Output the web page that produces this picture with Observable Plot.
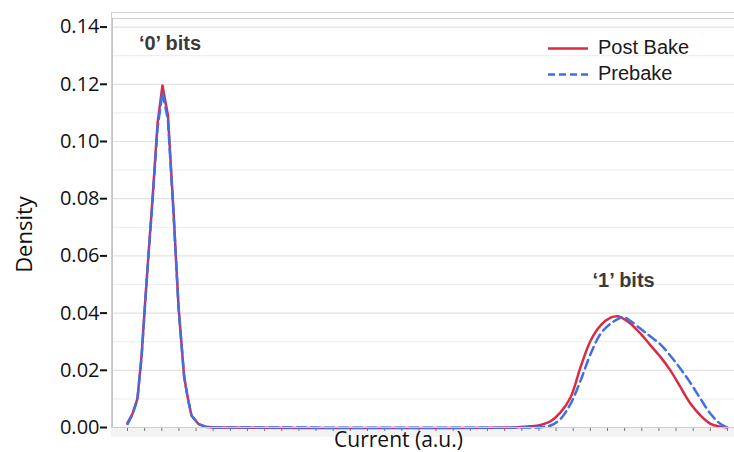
<!DOCTYPE html>
<html>
<head>
<meta charset="utf-8">
<script src="https://cdn.jsdelivr.net/npm/d3@7"></script>
<script src="https://cdn.jsdelivr.net/npm/@observablehq/plot@0.6"></script>
<style>
  html, body { margin: 0; padding: 0; background: #fff; }
  #chart { width: 734px; height: 452px; }
</style>
</head>
<body>
<div id="chart"></div>
<script>
// ---- data ----
const postX = [0, 0.29, 0.58, 0.82, 1.02, 1.23, 1.46, 1.75, 2.04, 2.36, 2.68, 2.98, 3.30, 3.50, 3.73, 4.14, 4.55, 5.0,
  22.5, 22.93, 23.51, 24.1, 24.68, 25.26, 25.85, 26.43, 27.02, 27.6, 28.18, 28.59, 28.76, 29.35, 29.93, 30.51, 31.1, 31.68, 32.26, 32.85, 33.43, 34.01, 34.6, 35];
const postY = [0.0016, 0.0048, 0.0101, 0.025, 0.043, 0.061, 0.080, 0.1062, 0.1196, 0.1091, 0.0759, 0.042, 0.018, 0.0108, 0.0042, 0.0012, 0.0003, 0,
  0, 0.0002, 0.0004, 0.0009, 0.0022, 0.0053, 0.0106, 0.0211, 0.0304, 0.0357, 0.0384, 0.0389, 0.0386, 0.0363, 0.0328, 0.0287, 0.0246, 0.0199, 0.0141, 0.0083, 0.0042, 0.0013, 0.0003, 0];
const preX = [0, 0.29, 0.58, 0.82, 1.02, 1.23, 1.46, 1.75, 2.04, 2.36, 2.68, 2.98, 3.30, 3.50, 3.73, 4.14, 4.55, 5.0,
  23.5, 24.1, 24.68, 25.26, 25.85, 26.43, 27.02, 27.6, 28.18, 28.94, 29.35, 29.93, 30.51, 31.1, 31.68, 32.26, 32.85, 33.43, 34.01, 34.6, 35];
const preY = [0.0012, 0.0045, 0.0098, 0.0245, 0.0425, 0.0605, 0.079, 0.1045, 0.1172, 0.1075, 0.0755, 0.0415, 0.018, 0.0108, 0.0042, 0.0012, 0.0003, 0,
  0, 0.0001, 0.0007, 0.003, 0.0083, 0.0164, 0.0258, 0.0328, 0.0363, 0.0386, 0.0372, 0.0345, 0.0318, 0.029, 0.025, 0.0205, 0.0155, 0.0100, 0.0048, 0.0012, 0];
const yTicks = [0, 0.02, 0.04, 0.06, 0.08, 0.10, 0.12, 0.14];
const yGrid = [0.01, 0.02, 0.03, 0.04, 0.05, 0.06, 0.07, 0.08, 0.09, 0.10, 0.11, 0.12, 0.13, 0.14];
const xTicks = d3.range(0, 36);
const seriesNames = ["Post Bake", "Prebake"];
const annoText = ["\u20180\u2019 bits", "\u20181\u2019 bits"];
const annoX = [2.48, 28.94];
const annoY = [0.1343, 0.0514];

const RED = "#dc2a45", BLUE = "#3f6fe3";

const post = postX.map((x, i) => ({x, y: postY[i]}));
const pre = preX.map((x, i) => ({x, y: preY[i]}));
const anno = annoText.map((t, i) => ({t, x: annoX[i], y: annoY[i]}));
const SPLIT = 5;

const chart = Plot.plot({
  width: 734, height: 452,
  marginLeft: 112, marginRight: 0, marginTop: 12, marginBottom: 25,
  x: {domain: [-0.875, 35.41], axis: null},
  y: {domain: [0, 0.1451], axis: null},
  style: {background: "transparent", overflow: "visible"},
  marks: [
    Plot.ruleY(yGrid, {stroke: d => (Math.round(d * 100) % 2 === 0 ? "#e2e2e2" : "#efefef"), strokeWidth: 1.2}),
    Plot.axisY({ticks: yTicks, tickFormat: d => d.toFixed(2), tickSize: 7, tickPadding: 1, dx: -5,
      stroke: "#111", strokeWidth: 2, fontSize: 20, fill: "#111", fontFamily: "Open Sans", label: null}),
    Plot.axisX({ticks: xTicks, tickFormat: () => "", tickSize: 4, stroke: "#777", label: null}),
    Plot.line(post, {filter: d => d.x <= SPLIT, x: "x", y: "y", stroke: RED, strokeWidth: 2.5}),
    Plot.line(post, {filter: d => d.x >= SPLIT, x: "x", y: "y", stroke: RED, strokeWidth: 2.5, curve: "catmull-rom"}),
    Plot.line(pre, {filter: d => d.x <= SPLIT, x: "x", y: "y", stroke: BLUE, strokeWidth: 2.5, strokeDasharray: "9,5"}),
    Plot.line(pre, {filter: d => d.x >= SPLIT, x: "x", y: "y", stroke: BLUE, strokeWidth: 2.5, strokeDasharray: "9,5", curve: "catmull-rom"}),
    Plot.text(anno, {x: "x", y: "y", text: "t", fontSize: 20, fontWeight: "bold", fill: "#3a3a3a", fontFamily: "Liberation Sans"}),
    Plot.text(["Current (a.u.)"], {frameAnchor: "bottom", lineAnchor: "middle", dy: 12.5, dx: -25, fontSize: 21, fill: "#111", fontFamily: "Open Sans"}),
    Plot.text(["Density"], {frameAnchor: "left", textAnchor: "middle", lineAnchor: "middle", rotate: -90, dx: -88, dy: 14.5, fontSize: 22, fill: "#111", fontFamily: "Open Sans"})
  ]
});

document.getElementById("chart").appendChild(chart);

// decorations: frame lines, bottom axis band, legend
const svg = d3.select(chart);
const [x0, x1] = chart.scale("x").range;
const [yb, yt] = chart.scale("y").range;
svg.insert("rect", ":first-child").attr("x", x0 - 1).attr("y", yb).attr("width", x1 - x0 + 1).attr("height", 10).attr("fill", "#f3f3f3");
svg.append("line").attr("x1", x0 - 1).attr("x2", x1).attr("y1", yt + 0.5).attr("y2", yt + 0.5).attr("stroke", "#d6d6d6");
svg.append("line").attr("x1", x0).attr("x2", x1).attr("y1", yt + 6.5).attr("y2", yt + 6.5).attr("stroke", "#d0d0d0");
svg.append("line").attr("x1", x0 - 0.5).attr("x2", x0 - 0.5).attr("y1", yt).attr("y2", yb).attr("stroke", "#cfcfcf");
svg.append("line").attr("x1", x0 + 0.5).attr("x2", x0 + 0.5).attr("y1", yt + 6).attr("y2", yb).attr("stroke", "#c4c4c4");
svg.append("line").attr("x1", x0 - 1).attr("x2", x1).attr("y1", yb + 0.5).attr("y2", yb + 0.5).attr("stroke", "#cfcfcf");

const leg = svg.append("g").attr("font-family", "Liberation Sans").attr("font-size", 20).attr("fill", "#1a1a1a").attr("text-anchor", "start");
const legColors = [RED, BLUE];
const legDash = [null, "7,4"];
seriesNames.forEach((name, i) => {
  const cy = 48.5 + i * 26;
  leg.append("line").attr("x1", 548).attr("x2", 588).attr("y1", cy).attr("y2", cy)
    .attr("stroke", legColors[i]).attr("stroke-width", 2.5).attr("stroke-dasharray", legDash[i]);
  leg.append("text").attr("x", 598).attr("y", cy - 1.5).attr("dy", "0.35em").attr("text-anchor", "start").text(name);
});
</script>
</body>
</html>
